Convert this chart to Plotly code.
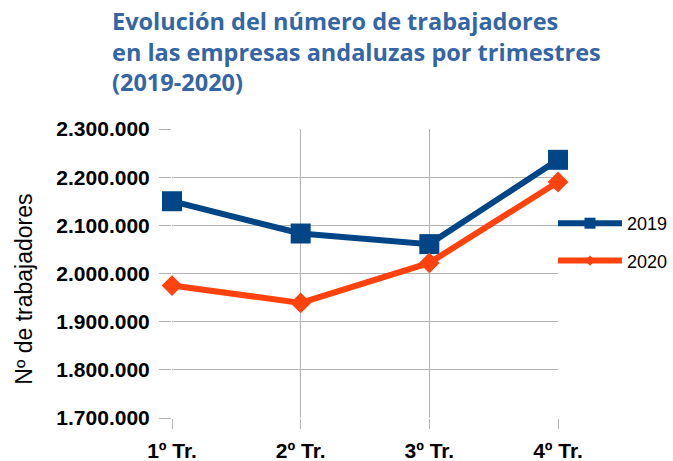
import plotly.graph_objects as go

# Quarterly workforce in Andalusian companies
trimestres = ["1º Tr.", "2º Tr.", "3º Tr.", "4º Tr."]
trabajadores_2019 = [2150000, 2083000, 2061000, 2236000]
trabajadores_2020 = [1975000, 1939000, 2022000, 2190000]

y_ticks = [1700000, 1800000, 1900000, 2000000, 2100000, 2200000, 2300000]

AZUL = "#004586"
NARANJA = "#ff420e"
GRIS = "#b3b3b3"

W, H = 673, 461
L, R, T, B = 172, 115, 129, 42.5
PW, PH = W - L - R, H - T - B

fig = go.Figure()

fig.add_trace(go.Scatter(
    x=trimestres, y=trabajadores_2019, mode="lines+markers", name="2019",
    line=dict(color=AZUL, width=6),
    marker=dict(symbol="square", size=20, color=AZUL),
    showlegend=False, cliponaxis=False,
))
fig.add_trace(go.Scatter(
    x=trimestres, y=trabajadores_2020, mode="lines+markers", name="2020",
    line=dict(color=NARANJA, width=6),
    marker=dict(symbol="diamond", size=16, color=NARANJA),
    showlegend=False, cliponaxis=False,
))

# Legend entries with smaller symbols
fig.add_trace(go.Scatter(
    x=[None], y=[None], mode="lines+markers", name="2019", legendgroup="a",
    line=dict(color=AZUL, width=6),
    marker=dict(symbol="square", size=11, color=AZUL),
))
fig.add_trace(go.Scatter(
    x=[None], y=[None], mode="lines+markers", name="2020", legendgroup="b",
    line=dict(color=NARANJA, width=6),
    marker=dict(symbol="diamond", size=8, color=NARANJA),
))

fig.update_layout(
    width=W, height=H,
    margin=dict(l=L, r=R, t=T, b=B, pad=0, autoexpand=False),
    paper_bgcolor="white", plot_bgcolor="white",
    separators=",.",
    font=dict(family="Liberation Sans", color="black"),
    showlegend=True,
    legend=dict(
        xref="container", yref="container",
        x=553 / W, xanchor="left", y=1 - 205 / H, yanchor="top",
        font=dict(family="Liberation Sans", size=18, color="black"),
        itemwidth=64, traceorder="grouped", tracegroupgap=11,
        bgcolor="rgba(0,0,0,0)", borderwidth=0,
    ),
    xaxis=dict(
        range=[0, 3], showgrid=True, gridcolor=GRIS, gridwidth=1,
        ticks="outside", ticklen=10, tickcolor=GRIS, automargin=False,
        tickfont=dict(family="Liberation Sans", size=21, color="black", weight="bold"),
        ticklabelstandoff=4,
        showline=False, zeroline=False,
    ),
    yaxis=dict(
        range=[1700000, 2300000], tickvals=y_ticks, tickformat=",d",
        showgrid=True, gridcolor=GRIS, gridwidth=1, automargin=False,
        ticks="outside", ticklen=12, tickcolor=GRIS,
        tickfont=dict(family="Liberation Sans", size=21, color="black", weight="bold"),
        ticklabelstandoff=5,
        showline=False, zeroline=False,
    ),
    annotations=[
        dict(
            text="Evolución del número de trabajadores<br>en las empresas andaluzas por trimestres<br>(2019-2020)",
            xref="paper", yref="paper", x=(110 - L) / PW, y=1 + (T - 3) / PH,
            xanchor="left", yanchor="top", align="left", showarrow=False,
            font=dict(family="Open Sans", size=23.5, color="#3465a4", weight="bold"),
        ),
        dict(
            text="Nº de trabajadores", textangle=-90,
            xref="paper", yref="paper", x=(24 - L) / PW, y=(H - B - 290) / PH,
            xanchor="center", yanchor="middle", showarrow=False,
            font=dict(family="Liberation Sans", size=23, color="black"),
        ),
    ],
)

fig.write_html("out.html")
